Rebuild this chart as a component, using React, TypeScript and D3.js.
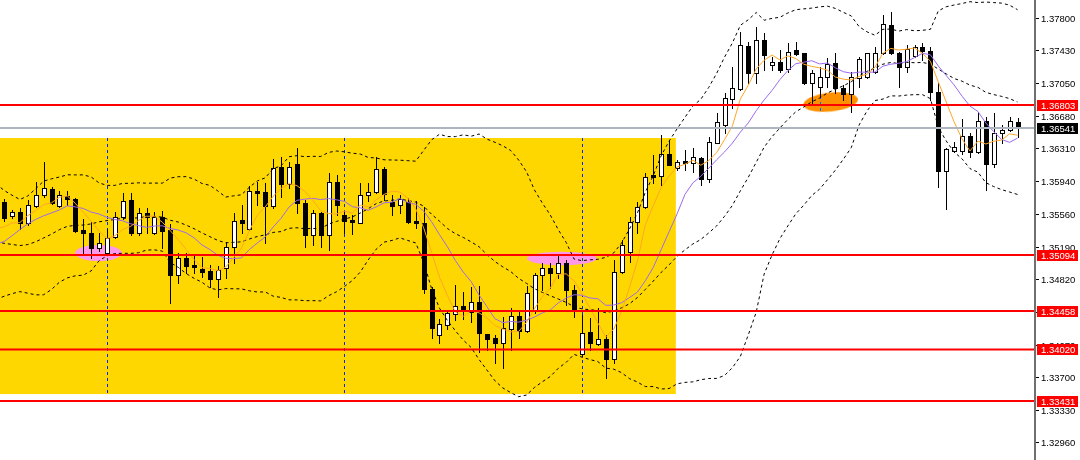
import React from 'react';
import * as d3 from 'd3';

// ---- price data (one bar per entry) ----
const opens = [
  1.35699, 1.35539, 1.35585, 1.35459, 1.35653, 1.35778, 1.35847, 1.35653, 1.35767, 1.35733,
  1.35380, 1.35346, 1.35175, 1.35118, 1.35300, 1.35528, 1.35721, 1.35346, 1.35573, 1.35346,
  1.35528, 1.35380, 1.34867, 1.35061, 1.34981, 1.34935, 1.34913, 1.34822, 1.34947, 1.35186,
  1.35494, 1.35391, 1.35824, 1.35813, 1.35653, 1.36097, 1.35904, 1.36132, 1.35687, 1.35323,
  1.35573, 1.35323, 1.35927, 1.35551, 1.35494, 1.35459, 1.35778, 1.35813, 1.36075, 1.35699,
  1.35665, 1.35699, 1.35482, 1.35459, 1.34708, 1.34184, 1.34297, 1.34423, 1.34514, 1.34446,
  1.34560, 1.34195, 1.34149, 1.34092, 1.34252, 1.34400, 1.34229, 1.34468, 1.34867, 1.34947,
  1.34890, 1.35004, 1.34696, 1.33967, 1.34218, 1.34081, 1.34138, 1.33910, 1.34901, 1.35129,
  1.35471, 1.35642, 1.36006, 1.35995, 1.36246, 1.36086, 1.36166, 1.36143, 1.36200, 1.35961,
  1.36371, 1.36576, 1.36872, 1.36986, 1.37476, 1.37168, 1.37544, 1.37259, 1.37294, 1.37214,
  1.37430, 1.37396, 1.37054, 1.37009, 1.37123, 1.37282, 1.36997, 1.36930, 1.37111, 1.37123,
  1.37180, 1.37396, 1.37715, 1.37396, 1.37237, 1.37362, 1.37465, 1.37419, 1.36952, 1.36052,
  1.36280, 1.36280, 1.36451, 1.36268, 1.36622, 1.36132, 1.36485, 1.36519, 1.36610,
];
const highs = [
  1.35733, 1.35608, 1.35630, 1.35721, 1.35927, 1.36154, 1.35870, 1.35824, 1.35824, 1.35744,
  1.35505, 1.35471, 1.35346, 1.35391, 1.35585, 1.35801, 1.35801, 1.35630, 1.35630, 1.35585,
  1.35596, 1.35448, 1.35118, 1.35118, 1.35084, 1.35072, 1.34981, 1.34970, 1.35243, 1.35573,
  1.35665, 1.35881, 1.35927, 1.35915, 1.36189, 1.36211, 1.36154, 1.36314, 1.35721, 1.35608,
  1.35585, 1.36029, 1.36006, 1.35585, 1.35551, 1.35915, 1.35915, 1.36211, 1.36097, 1.35778,
  1.35778, 1.35744, 1.35710, 1.35642, 1.34730, 1.34366, 1.34468, 1.34753, 1.34673, 1.34730,
  1.34742, 1.34195, 1.34184, 1.34389, 1.34491, 1.34446, 1.34742, 1.34890, 1.35004, 1.35004,
  1.35095, 1.35038, 1.34753, 1.34412, 1.34377, 1.34491, 1.34184, 1.35038, 1.35266, 1.35528,
  1.35699, 1.36029, 1.36234, 1.36462, 1.36405, 1.36177, 1.36291, 1.36314, 1.36211, 1.36439,
  1.36713, 1.36941, 1.37237, 1.37635, 1.37522, 1.37692, 1.37624, 1.37351, 1.37430, 1.37510,
  1.37522, 1.37396, 1.37203, 1.37237, 1.37339, 1.37396, 1.37032, 1.37180, 1.37351, 1.37400,
  1.37465, 1.37829, 1.37863, 1.37408, 1.37487, 1.37487, 1.37510, 1.37465, 1.37054, 1.36314,
  1.36382, 1.36644, 1.36485, 1.36724, 1.36667, 1.36713, 1.36576, 1.36667, 1.36656,
];
const lows = [
  1.35482, 1.35517, 1.35391, 1.35437, 1.35642, 1.35756, 1.35676, 1.35642, 1.35665, 1.35357,
  1.35118, 1.35061, 1.35141, 1.35106, 1.35289, 1.35505, 1.35323, 1.35323, 1.35346, 1.35334,
  1.35175, 1.34548, 1.34776, 1.34890, 1.34890, 1.34844, 1.34730, 1.34616, 1.34833, 1.35004,
  1.35346, 1.35380, 1.35665, 1.35232, 1.35630, 1.35756, 1.35858, 1.35573, 1.35186, 1.35209,
  1.35186, 1.35152, 1.35551, 1.35346, 1.35334, 1.35459, 1.35710, 1.35801, 1.35721, 1.35551,
  1.35573, 1.35459, 1.35403, 1.34662, 1.34149, 1.34092, 1.34252, 1.34354, 1.34366, 1.34332,
  1.33990, 1.34013, 1.33865, 1.33808, 1.34013, 1.34149, 1.34218, 1.34434, 1.34696, 1.34719,
  1.34833, 1.34525, 1.34389, 1.33944, 1.34013, 1.34070, 1.33694, 1.33865, 1.34890, 1.35015,
  1.35346, 1.35630, 1.35915, 1.35892, 1.36120, 1.36063, 1.36063, 1.36041, 1.35892, 1.35927,
  1.36371, 1.36485, 1.36770, 1.36975, 1.37054, 1.37054, 1.37203, 1.37203, 1.37180, 1.37180,
  1.37373, 1.37043, 1.36827, 1.36895, 1.37009, 1.36941, 1.36861, 1.36724, 1.37009, 1.37111,
  1.37168, 1.37385, 1.37385, 1.37009, 1.37180, 1.37351, 1.37316, 1.36861, 1.35870, 1.35619,
  1.36268, 1.36246, 1.36211, 1.36257, 1.35835, 1.36097, 1.36371, 1.36508, 1.36439,
];
const closes = [
  1.35517, 1.35585, 1.35459, 1.35665, 1.35778, 1.35858, 1.35687, 1.35778, 1.35733, 1.35368,
  1.35346, 1.35175, 1.35232, 1.35289, 1.35528, 1.35710, 1.35346, 1.35573, 1.35528, 1.35528,
  1.35368, 1.34867, 1.35061, 1.34970, 1.34958, 1.34901, 1.34822, 1.34924, 1.35186, 1.35482,
  1.35459, 1.35824, 1.35801, 1.35653, 1.36086, 1.35904, 1.36097, 1.35687, 1.35323, 1.35573,
  1.35323, 1.35927, 1.35665, 1.35482, 1.35471, 1.35778, 1.35813, 1.36075, 1.35790, 1.35653,
  1.35733, 1.35471, 1.35459, 1.34708, 1.34263, 1.34309, 1.34434, 1.34514, 1.34468, 1.34560,
  1.34206, 1.34138, 1.34092, 1.34263, 1.34400, 1.34229, 1.34662, 1.34867, 1.34947, 1.34890,
  1.35004, 1.34696, 1.34468, 1.34206, 1.34092, 1.34138, 1.33910, 1.34901, 1.35209, 1.35471,
  1.35642, 1.35984, 1.35984, 1.36246, 1.36120, 1.36154, 1.36143, 1.36211, 1.35961, 1.36382,
  1.36610, 1.36884, 1.36997, 1.37487, 1.37168, 1.37544, 1.37373, 1.37294, 1.37203, 1.37408,
  1.37385, 1.37054, 1.37168, 1.37123, 1.37271, 1.36997, 1.36930, 1.37123, 1.37328, 1.37396,
  1.37396, 1.37727, 1.37396, 1.37237, 1.37442, 1.37465, 1.37419, 1.36952, 1.36052, 1.36303,
  1.36325, 1.36451, 1.36268, 1.36622, 1.36132, 1.36485, 1.36519, 1.36622, 1.36541,
];
// closes of the 20 bars before the first drawn bar (seed the moving averages)
const priorCloses = [
  1.35892, 1.35835, 1.35721, 1.35437, 1.35152, 1.34981, 1.34810, 1.34753, 1.34981, 1.35152,
  1.35266, 1.34924, 1.34753, 1.35015, 1.35266, 1.35448, 1.35357, 1.35437, 1.35266, 1.35494,
];

// horizontal levels, bid, axis ticks
const levelPrices = [1.36803, 1.35094, 1.34458, 1.3402, 1.33431];
const bidPrice = 1.36541;
const tickValues = [1.378, 1.3743, 1.3705, 1.3668, 1.3631, 1.3594, 1.3556, 1.3519, 1.3482, 1.3445, 1.3407, 1.337, 1.3333, 1.3296];
const gridBars = [13, 43, 73, 103];

// drawn objects: zone rectangle and highlight ellipses (bar index / price)
const zoneBars = [-1, 84.85];
const zonePrices = [1.36428, 1.33511];
const markerBars = [11.93, 70.45, 104.4];
const markerPrices = [1.35118, 1.35055, 1.36838];
const markerHalfBars = [2.97, 4.42, 3.47];
const markerHalfPrices = [0.00091, 0.00076, 0.00108];
const markerColors = ['#ff98e8', '#ff98e8', '#ff9000'];

const W = 1080;
const H = 460;
const AXIS_X = 1035;

const PRE = priorCloses.length;
const allCloses = priorCloses.concat(closes);

function sma(period: number, bar: number) {
  const idx = bar + PRE;
  const win = allCloses.slice(idx - period + 1, idx + 1);
  return d3.mean(win) as number;
}
function stdev(period: number, bar: number) {
  const idx = bar + PRE;
  const win = allCloses.slice(idx - period + 1, idx + 1);
  const m = d3.mean(win) as number;
  return Math.sqrt(d3.mean(win, (v) => (v - m) * (v - m)) as number);
}

export default function App() {
  const x = d3.scaleLinear().domain([0, 128]).range([4, 1017.5]);
  const y = d3.scaleLinear().domain([1.3276, 1.38]).range([H, 0]);

  const bars = d3.range(-1, closes.length);
  const ma5 = bars.map((b) => [b, sma(5, b)] as [number, number]);
  const ma10 = bars.map((b) => [b, sma(10, b)] as [number, number]);
  const mid = bars.map((b) => [b, sma(20, b)] as [number, number]);
  const upper = bars.map((b) => [b, sma(20, b) + 2 * stdev(20, b)] as [number, number]);
  const lower = bars.map((b) => [b, sma(20, b) - 2 * stdev(20, b)] as [number, number]);

  const line = d3
    .line<[number, number]>()
    .x((d) => x(d[0]))
    .y((d) => y(d[1]));

  const px = (v: number) => Math.round(v) + 0.5;

  const font = "'Liberation Sans', Arial, sans-serif";

  return (
    <svg
      width={W}
      height={H}
      style={{ position: 'absolute', left: 0, top: 0, background: '#fff' }}
      fontFamily={font}
    >
      <defs>
        <clipPath id="plot">
          <rect x={0} y={0} width={AXIS_X} height={H} />
        </clipPath>
      </defs>
      <rect x={0} y={0} width={W} height={H} fill="#fff" />
      <g clipPath="url(#plot)">
        {/* zone */}
        <rect
          x={x(zoneBars[0])}
          y={y(zonePrices[0])}
          width={x(zoneBars[1]) - x(zoneBars[0])}
          height={y(zonePrices[1]) - y(zonePrices[0])}
          fill="#ffd700"
        />
        {/* highlight ellipses */}
        {markerBars.map((b, i) => (
          <ellipse
            key={'m' + i}
            cx={x(b)}
            cy={y(markerPrices[i])}
            rx={x(b + markerHalfBars[i]) - x(b)}
            ry={y(markerPrices[i] - markerHalfPrices[i]) - y(markerPrices[i])}
            fill={markerColors[i]}
            transform={i === 2 ? `rotate(-6 ${x(b)} ${y(markerPrices[i])})` : undefined}
          />
        ))}
        {/* vertical grid */}
        <g style={{ mixBlendMode: 'difference' }}>
          {gridBars.map((b) => (
            <line
              key={'g' + b}
              x1={px(x(b))}
              x2={px(x(b))}
              y1={0}
              y2={H}
              stroke="#fff"
              strokeWidth={1}
              strokeDasharray="3,3"
            />
          ))}
        </g>
        {/* candles */}
        {closes.map((c, i) => {
          const o = opens[i];
          const cx = px(x(i));
          const up = c >= o;
          const top = px(y(Math.max(o, c)));
          const bot = px(y(Math.min(o, c)));
          return (
            <g key={'c' + i}>
              <line x1={cx} x2={cx} y1={Math.round(y(highs[i]))} y2={Math.round(y(lows[i])) + 1} stroke="#000" strokeWidth={1} />
              <rect
                x={cx - 2}
                y={top}
                width={4}
                height={Math.max(0, bot - top)}
                fill={up ? '#fff' : '#000'}
                stroke="#000"
                strokeWidth={1}
              />
            </g>
          );
        })}
        {/* Bollinger bands */}
        {[upper, mid, lower].map((s, k) => (
          <path key={'bb' + k} d={line(s) || ''} fill="none" stroke="#000" strokeWidth={1} strokeDasharray="3,3" />
        ))}
        {/* moving averages */}
        <path d={line(ma10) || ''} fill="none" stroke="#9a6af0" strokeWidth={1} />
        <path d={line(ma5) || ''} fill="none" stroke="#ffa628" strokeWidth={1} />
        {/* levels */}
        <line x1={0} x2={AXIS_X} y1={y(bidPrice)} y2={y(bidPrice)} stroke="#adb5c1" strokeWidth={2} />
        {levelPrices.map((p) => (
          <line key={'l' + p} x1={0} x2={AXIS_X} y1={y(p)} y2={y(p)} stroke="#ff0000" strokeWidth={2} />
        ))}
      </g>
      {/* price axis */}
      <line x1={AXIS_X} x2={AXIS_X} y1={0} y2={H} stroke="#707070" strokeWidth={2} />
      {tickValues.map((t) => (
        <g key={'t' + t}>
          <line x1={AXIS_X + 1} x2={AXIS_X + 4} y1={px(y(t))} y2={px(y(t))} stroke="#000" strokeWidth={1} />
          <text x={AXIS_X + 6} y={y(t) + 0.5} dominantBaseline="central" fontSize={9.5} fill="#000">
            {t.toFixed(5)}
          </text>
        </g>
      ))}
      {levelPrices.map((p) => (
        <g key={'lb' + p}>
          <rect x={AXIS_X + 2} y={Math.round(y(p)) - 5} width={41} height={11} fill="#ff0000" />
          <text x={AXIS_X + 6} y={Math.round(y(p)) + 0.5} dominantBaseline="central" fontSize={9.5} fill="#fff">
            {p.toFixed(5)}
          </text>
        </g>
      ))}
      <rect x={AXIS_X + 2} y={Math.round(y(bidPrice)) - 5} width={41} height={11} fill="#000" />
      <text x={AXIS_X + 6} y={Math.round(y(bidPrice)) + 0.5} dominantBaseline="central" fontSize={9.5} fill="#fff">
        {bidPrice.toFixed(5)}
      </text>
    </svg>
  );
}
